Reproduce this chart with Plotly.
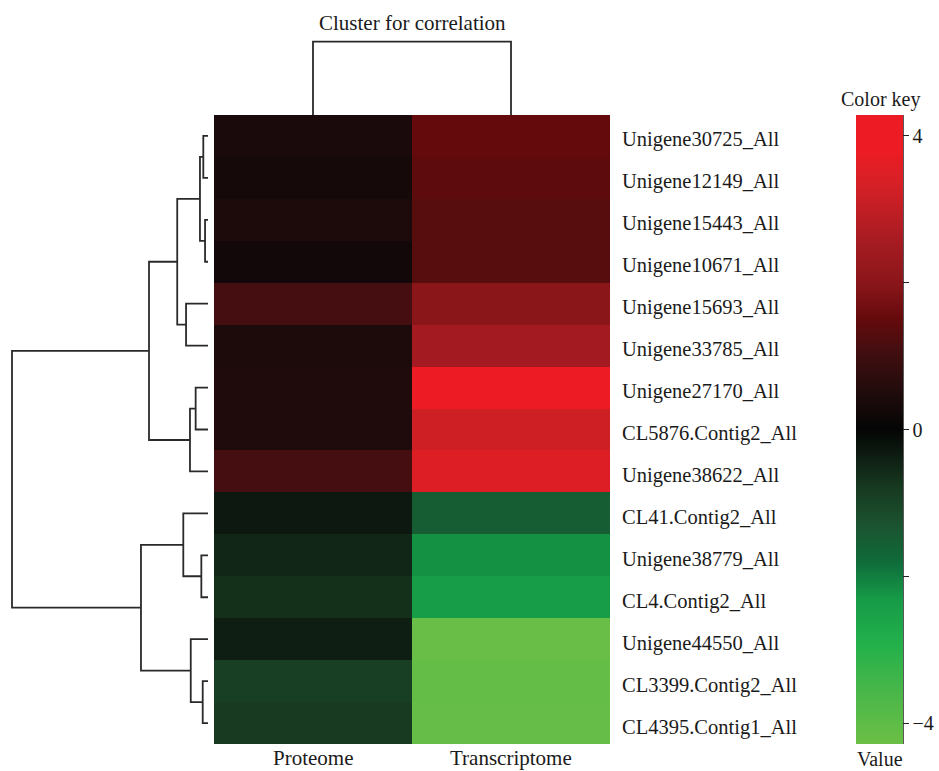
import plotly.graph_objects as go

# ---------------- data ----------------
genes = ["Unigene30725_All", "Unigene12149_All", "Unigene15443_All", "Unigene10671_All",
         "Unigene15693_All", "Unigene33785_All", "Unigene27170_All", "CL5876.Contig2_All",
         "Unigene38622_All", "CL41.Contig2_All", "Unigene38779_All", "CL4.Contig2_All",
         "Unigene44550_All", "CL3399.Contig2_All", "CL4395.Contig1_All"]
samples = ["Proteome", "Transcriptome"]
proteome = [0.40, 0.30, 0.45, 0.25, 1.10, 0.45, 0.50, 0.50, 1.10,
            -0.30, -0.50, -0.65, -0.38, -0.90, -0.80]
transcriptome = [1.50, 1.40, 1.32, 1.32, 2.00, 2.50, 4.00, 3.20, 3.50,
                 -1.50, -2.20, -2.35, -4.20, -4.10, -4.15]

# row clustering (scipy-style linkage: ids 0..14 leaves, 15+ clusters), heights
row_linkage = [
    (0, 1, 0.24), (2, 3, 0.15), (15, 16, 0.41), (4, 5, 1.12), (17, 18, 1.57),
    (6, 7, 0.63), (20, 8, 0.92), (19, 21, 3.01), (10, 11, 0.34), (9, 23, 1.26),
    (13, 14, 0.27), (12, 25, 0.88), (24, 26, 3.42), (22, 27, 10.0),
]
col_linkage = [(0, 1, 1.0)]

zmin, zmax = -4.28, 4.28
scale_values = [-4.28, -3.5, -2.9, -2.3, -1.8, -1.3, -0.8, -0.35, 0.0, 0.5, 1.1, 1.5, 2.0, 2.6, 3.3, 3.8, 4.28]
scale_colors = ["#6cbf46", "#45b649", "#22b04b", "#169a47", "#0f6b3a", "#1b5330", "#173a20",
                "#0e1c12", "#050505", "#200b0c", "#450e10", "#650a0c", "#8a161a", "#a81c22",
                "#d42026", "#ed1c24", "#ed1c24"]
cbar_tickvals = [-4, -2, 0, 2, 4]
cbar_ticktext = ["\u22124", "", "0", "", "4"]

# ---------------- helpers ----------------
W, H = 939, 771
def px(x):
    return x / W
def py(y):
    return 1 - y / H

def dendro_segments(linkage, n):
    pos = {i: float(i) for i in range(n)}
    hgt = {i: 0.0 for i in range(n)}
    a_list, b_list = [], []   # a = position coordinate, b = height coordinate
    for k, (l, r, h) in enumerate(linkage):
        cid = n + k
        for pa, pb in [(pos[l], hgt[l]), (pos[l], h), (pos[r], h), (pos[r], hgt[r])]:
            a_list.append(pa)
            b_list.append(pb)
        a_list.append(None)
        b_list.append(None)
        pos[cid] = (pos[l] + pos[r]) / 2
        hgt[cid] = h
    return a_list, b_list

colorscale = [[(v - zmin) / (zmax - zmin), c] for v, c in zip(scale_values, scale_colors)]
z = [[p, t] for p, t in zip(proteome, transcriptome)]
n = len(genes)

FONT = "Liberation Serif"
TXT = "#1a1a1a"
line_col = "#2a2a2a"

fig = go.Figure()
fig.add_trace(go.Heatmap(
    z=z, x=list(range(len(samples))), y=list(range(n)),
    colorscale=colorscale, zmin=zmin, zmax=zmax, xaxis="x", yaxis="y",
    xgap=0, ygap=0,
    colorbar=dict(
        x=px(856), xanchor="left", thickness=47, thicknessmode="pixels",
        len=(744 - 115) / H, lenmode="fraction", y=py((115 + 744) / 2), yanchor="middle",
        xpad=0, ypad=0, outlinewidth=0,
        tickvals=cbar_tickvals, ticktext=cbar_ticktext, ticks="outside", ticklen=6,
        tickwidth=1.3, tickcolor="#222", tickfont=dict(family=FONT, size=20, color=TXT),
    ),
))

# left row dendrogram
ra, rb = dendro_segments(row_linkage, n)
fig.add_trace(go.Scatter(x=rb, y=ra, mode="lines", xaxis="x2", yaxis="y2",
                         line=dict(color=line_col, width=1.8), hoverinfo="skip", showlegend=False))
# top column dendrogram
ca, cb = dendro_segments(col_linkage, len(samples))
fig.add_trace(go.Scatter(x=ca, y=cb, mode="lines", xaxis="x3", yaxis="y3",
                         line=dict(color=line_col, width=1.8), hoverinfo="skip", showlegend=False))

# axis geometry
lx_leaf, lx_root = 208, 12
k = (lx_leaf - lx_root) / 10.0
left_range = [(lx_leaf - 0) / k, (lx_leaf - 214) / k]
top_leaf, top_merge = 115, 41.7
kt = (top_leaf - top_merge) / 1.0

annotations = [
    dict(text="Cluster for correlation", x=px(412), y=py(23), xref="paper", yref="paper",
         showarrow=False, font=dict(family=FONT, size=21, color=TXT), xanchor="center", yanchor="middle"),
    dict(text="Color key", x=px(880), y=py(100), xref="paper", yref="paper",
         showarrow=False, font=dict(family=FONT, size=20, color=TXT), xanchor="center", yanchor="middle"),
    dict(text="Value", x=px(880), y=py(759), xref="paper", yref="paper",
         showarrow=False, font=dict(family=FONT, size=20, color=TXT), xanchor="center", yanchor="middle"),
]
for i, g in enumerate(genes):
    annotations.append(dict(text=g, x=px(620), y=i, xref="paper", yref="y", yshift=-4,
                            showarrow=False, xanchor="left", yanchor="middle",
                            font=dict(family=FONT, size=20.5, color=TXT)))
for j, s in enumerate(samples):
    annotations.append(dict(text=s, x=j, y=py(758), xref="x", yref="paper",
                            showarrow=False, xanchor="center", yanchor="middle",
                            font=dict(family=FONT, size=21, color=TXT)))

fig.update_layout(
    width=W, height=H, margin=dict(l=0, r=0, t=0, b=0),
    paper_bgcolor="white", plot_bgcolor="white",
    font=dict(family=FONT, size=20, color=TXT),
    showlegend=False,
    xaxis=dict(domain=[px(214), px(610)], range=[-0.5, 1.5], showticklabels=False,
               showgrid=False, zeroline=False, showline=False, ticks=""),
    yaxis=dict(domain=[py(744), py(115)], range=[n - 0.5, -0.5], showticklabels=False,
               showgrid=False, zeroline=False, showline=False, ticks=""),
    xaxis2=dict(domain=[0, px(214)], range=left_range, visible=False, anchor="y2"),
    yaxis2=dict(domain=[py(744), py(115)], range=[n - 0.5, -0.5], visible=False, anchor="x2"),
    xaxis3=dict(domain=[px(214), px(610)], range=[-0.5, 1.5], visible=False, anchor="y3"),
    yaxis3=dict(domain=[py(115), 1], range=[0, top_leaf / kt], visible=False, anchor="x3"),
    annotations=annotations,
    shapes=[dict(type="line", xref="paper", yref="paper", x0=px(903), x1=px(903),
                 y0=py(744), y1=py(115), line=dict(color="#222", width=1.5))],
)

fig.write_html("out.html", config={"displayModeBar": False},
               post_script="document.body.style.margin='0';document.body.style.overflow='hidden';")
